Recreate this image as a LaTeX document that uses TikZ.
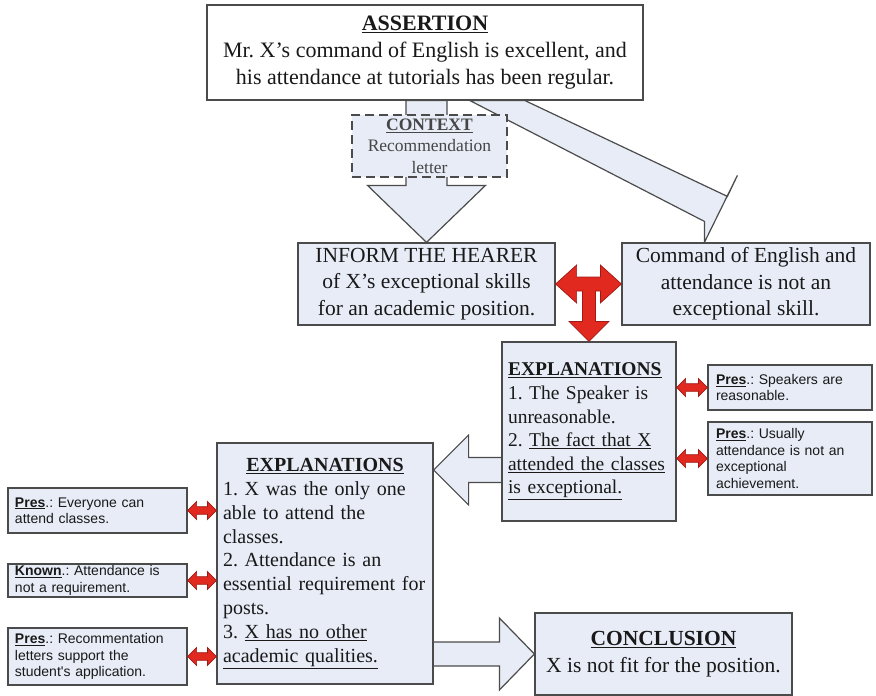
\documentclass[tikz,border=0pt]{standalone}
\usepackage{fontspec}
\setmainfont{Liberation Serif}
\newfontfamily\sansf{Liberation Sans}
\usetikzlibrary{calc,backgrounds}
\frenchspacing
\definecolor{boxc}{RGB}{231,236,246}
\definecolor{bordc}{RGB}{75,75,75}
\definecolor{textc}{RGB}{25,25,25}
\definecolor{ctxtext}{RGB}{70,70,70}
\definecolor{redf}{RGB}{226,41,32}
\definecolor{redd}{RGB}{160,25,20}
\newcommand\rdarr[2]{%
  \filldraw[redarr] let \p1=#1, \p2=#2 in
  (\x1,\y1) -- (\x1+9pt,\y1+9pt) -- (\x1+9pt,\y1+3.8pt) -- (\x2-9pt,\y1+3.8pt)
  -- (\x2-9pt,\y1+9pt) -- (\x2,\y1) -- (\x2-9pt,\y1-9pt) -- (\x2-9pt,\y1-3.8pt)
  -- (\x1+9pt,\y1-3.8pt) -- (\x1+9pt,\y1-9pt) -- cycle;}
\begin{document}
\begin{tikzpicture}[x=1pt,y=-1pt,
  box/.style={draw=bordc,line width=1.2pt,fill=boxc,text=textc,inner sep=0pt},
  barrow/.style={draw=bordc,line width=1.2pt,fill=boxc,line join=miter},
  redarr/.style={fill=redf,draw=redd,line width=0.7pt,line join=miter},
  bigserif/.style={font=\fontsize{21.5}{26.5}\selectfont},
  presbox/.style={box,align=left,font=\sansf\fontsize{14}{16.5}\selectfont}
]
\useasboundingbox (0,0) rectangle (876,696);

% ---- nodes ----
\node[box,fill=white,minimum width=436,minimum height=95,align=center,
      font=\fontsize{22}{27}\selectfont] (assert) at (425,52.5)
  {\textbf{\underline{ASSERTION}}\\Mr. X's command of English is excellent, and\\his attendance at tutorials has been regular.\rule[-5pt]{0pt}{5pt}};

\node[box,dash pattern=on 9pt off 5pt,minimum width=155,minimum height=62,align=center,
      text=ctxtext,font=\fontsize{17.5}{21.5}\selectfont] (context) at (429.5,146)
  {\textbf{\underline{CONTEXT}}\\Recommendation\\letter};

\node[box,bigserif,minimum width=257,minimum height=82,align=center] (inform) at (426.5,284)
  {INFORM THE HEARER\\of X’s exceptional skills\\for an academic position.};

\node[box,bigserif,minimum width=248,minimum height=82,align=center] (command) at (746,284)
  {Command of English and\\attendance is not an\\exceptional skill.};

\node[box,minimum width=174,minimum height=179,text width=162,align=left,
      font=\fontsize{19.5}{23.6}\selectfont] (expl1) at (589,431.5)
  {\textbf{\underline{EXPLANATIONS}}\\1. The Speaker is\\unreasonable.\\2. \underline{The fact that X}\\\underline{attended the classes}\\\underline{is exceptional.}};

\node[presbox,minimum width=164,minimum height=45,text width=148] (presR1) at (790,387.5)
  {\textbf{\underline{Pres}}.: Speakers are\\reasonable.};
\node[presbox,minimum width=164,minimum height=73,text width=148] (presR2) at (790,458.5)
  {\textbf{\underline{Pres}}.: Usually\\attendance is not an\\exceptional\\achievement.};

\node[box,minimum width=216,minimum height=241,text width=204,align=left,
      font=\fontsize{20}{23.8}\selectfont] (expl2) at (325,563.5)
  {\makebox[204pt]{\textbf{\underline{EXPLANATIONS}}}\\1. X was the only one\\able to attend the\\classes.\\2. Attendance is an\\essential requirement for\\posts.\\3. \underline{X has no other}\\\underline{academic qualities.}};

\node[presbox,minimum width=179,minimum height=45,text width=165] (presL1) at (97.5,510.5)
  {\textbf{\underline{Pres}}.: Everyone can\\attend classes.};
\node[presbox,minimum width=179,minimum height=33,text width=165] (presL2) at (97.5,580.5)
  {\textbf{\underline{Known}}.: Attendance is\\not a requirement.};
\node[presbox,minimum width=179,minimum height=57,text width=165] (presL3) at (97.5,656.5)
  {\textbf{\underline{Pres}}.: Recommentation\\letters support the\\student's application.};

\node[box,minimum width=257,minimum height=82,align=center,
      font=\fontsize{21.5}{27}\selectfont] (concl) at (663.5,654)
  {\textbf{\underline{CONCLUSION}}\\X is not fit for the position.};

% ---- block arrows (behind the boxes) ----
\coordinate (d1) at ($(assert.south)+(45,0)$);
\coordinate (d2) at ($(assert.south)+(100,0)$);
\coordinate (dtip) at ($(command.north west)+(83,0)$);
\coordinate (la) at (expl1.west |- 0,470);
\begin{pgfonlayer}{background}
  \filldraw[barrow] let \p1=(inform.north |- assert.south), \p2=(inform.north) in
    (\x1-20.5pt,\y1) -- (\x1-20.5pt,\y2+57pt) -- (\x1-59pt,\y2+57pt) -- (\p2)
    -- (\x1+59pt,\y2+57pt) -- (\x1+20.5pt,\y2+57pt) -- (\x1+20.5pt,\y1) -- cycle;
  \filldraw[barrow] (d1) -- (d2) -- ($(dtip)+(23,-46)$) -- ($(dtip)+(33,-67)$)
    -- (dtip) -- ($(dtip)+(0,-21)$) -- cycle;
  \filldraw[barrow] let \p1=(la), \p2=(expl2.east |- la) in
    (\x1+3pt,\y1+12.5pt) -- (\x2+35pt,\y1+12.5pt) -- (\x2+35pt,\y1+35pt) -- (\p2)
    -- (\x2+35pt,\y1-35pt) -- (\x2+35pt,\y1-12.5pt) -- (\x1+3pt,\y1-12.5pt) -- cycle;
  \filldraw[barrow] let \p1=(expl2.east |- concl.west), \p2=(concl.west) in
    (\x1-3pt,\y1+12pt) -- (\x2-35pt,\y1+12pt) -- (\x2-35pt,\y1+36pt) -- (\p2)
    -- (\x2-35pt,\y1-36pt) -- (\x2-35pt,\y1-12pt) -- (\x1-3pt,\y1-12pt) -- cycle;
\end{pgfonlayer}

% ---- red T arrow ----
\filldraw[redarr] let \p1=(inform.east), \p2=(command.west), \p3=(expl1.north) in
  (\x1,\y1) -- (\x1+21pt,\y1+19pt) -- (\x1+21pt,\y1+7pt) -- (\x2-21pt,\y1+7pt)
  -- (\x2-21pt,\y1+19pt) -- (\x2,\y1) -- (\x2-21pt,\y1-19pt) -- (\x2-21pt,\y1-7pt)
  -- (\x3+6.5pt,\y1-7pt) -- (\x3+6.5pt,\y3+20pt) -- (\x3+20pt,\y3+20pt) -- (\p3)
  -- (\x3-20pt,\y3+20pt) -- (\x3-6.5pt,\y3+20pt) -- (\x3-6.5pt,\y1-7pt)
  -- (\x1+21pt,\y1-7pt) -- (\x1+21pt,\y1-19pt) -- cycle;

% ---- small red double arrows ----
\rdarr{(expl1.east |- presR1.west)}{(presR1.west)}
\rdarr{(expl1.east |- presR2.west)}{(presR2.west)}
\rdarr{(presL1.east)}{(expl2.west |- presL1.east)}
\rdarr{(presL2.east)}{(expl2.west |- presL2.east)}
\rdarr{(presL3.east)}{(expl2.west |- presL3.east)}
\end{tikzpicture}
\end{document}
